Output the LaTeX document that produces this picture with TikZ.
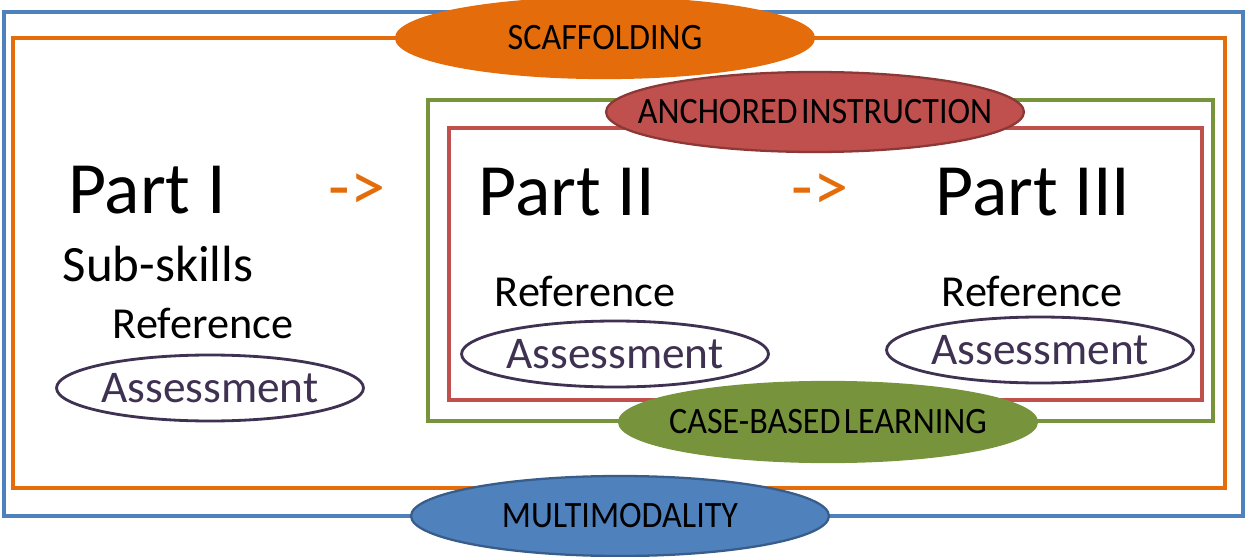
\documentclass[tikz,border=0pt]{standalone}
\usepackage{fontspec}
\setmainfont{Carlito}
\usepackage{tikz}
\usetikzlibrary{shapes.geometric}
\definecolor{mblue}{HTML}{4F81BD}
\definecolor{mbluedark}{HTML}{385D8A}
\definecolor{sorange}{HTML}{E46C0A}
\definecolor{ared}{HTML}{C0504D}
\definecolor{areddark}{HTML}{8C3836}
\definecolor{cgreen}{HTML}{77933C}
\definecolor{apurple}{HTML}{3F3151}
\newcommand{\bandtext}[1]{\makebox[0pt]{\scalebox{0.97}[1.06]{#1}}}
\tikzset{
  band/.style={ellipse,minimum width=8.36cm,minimum height=1.6cm,inner sep=0pt,line width=1.3pt,
    font=\fontsize{20}{23}\selectfont},
  frame/.style={line width=2pt},
  assessbox/.style={ellipse,draw=apurple,fill=white,line width=1.6pt,minimum width=6.08cm,
    minimum height=1.32cm,inner sep=0pt,text=apurple,font=\fontsize{25.8}{28}\selectfont},
  parttitle/.style={font=\fontsize{42}{46}\selectfont,inner sep=0pt},
  nextarrow/.style={font=\fontsize{40}{46}\selectfont,text=sorange,inner sep=0pt},
  sublabel/.style={font=\fontsize{25.2}{28}\selectfont,inner sep=0pt}
}
\begin{document}
\begin{tikzpicture}[x=0.02cm,y=-0.02cm]
\useasboundingbox (0,0) rectangle (1247,557);
% frames
\draw[frame,mblue] (4,12) rectangle (1243,516);
\draw[frame,sorange] (13,38) rectangle (1225,488);
\draw[frame,cgreen] (428,100) rectangle (1213,421);
\draw[frame,ared] (449,128) rectangle (1202,400);
% strategy labels
\node[band,fill=sorange,draw=sorange] (scaff) at (605,38) {\bandtext{SCAFFOLDING}};
\node[band,fill=ared,draw=areddark] (anchor) at (815,112) {\bandtext{ANCHORED\kern2pt INSTRUCTION}};
\node[band,fill=cgreen,draw=cgreen] (cbl) at (828,422) {\bandtext{CASE-BASED\kern2pt LEARNING}};
\node[band,fill=mblue,draw=mbluedark] (multi) at (620,516) {\bandtext{MULTIMODALITY}};
% part I
\node[parttitle] (p1) at (147,190) {Part I};
\node[sublabel,font=\fontsize{29}{32}\selectfont] (sub) at (158,264) {Sub-skills};
\node[sublabel] (ref1) at (203,323) {Reference};
\node[assessbox] (as1) at (210,388) {Assessment};
\node[nextarrow] (ar1) at (357,192) {->};
% part II
\node[parttitle] (p2) at (567,192) {Part II};
\node[sublabel] (ref2) at (585,291) {Reference};
\node[assessbox] (as2) at (615,354) {Assessment};
\node[nextarrow] (ar2) at (820,192) {->};
% part III
\node[parttitle] (p3) at (1033,192) {Part III};
\node[sublabel] (ref3) at (1032,291) {Reference};
\node[assessbox] (as3) at (1040,350) {Assessment};
\end{tikzpicture}
\end{document}
